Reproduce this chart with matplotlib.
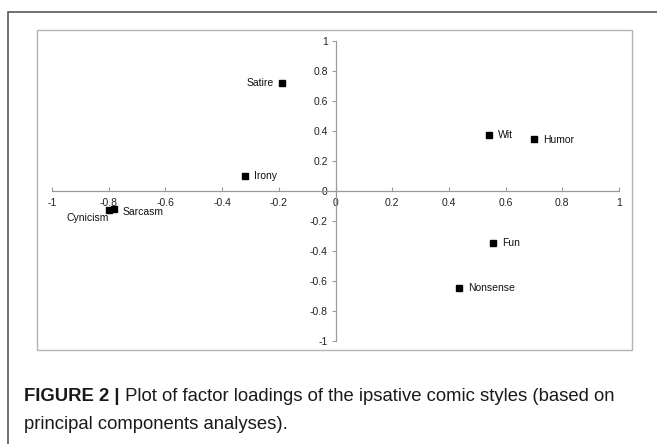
import matplotlib
matplotlib.use("Agg")
import matplotlib.pyplot as plt
from matplotlib.patches import Rectangle

# ------------------------------------------------------------------------------
# data : factor loadings

styles   = ['Satire', 'Irony', 'Wit', 'Humor', 'Sarcasm', 'Cynicism', 'Fun', 'Nonsense']
factor_1 = [-0.19, -0.32, 0.54, 0.70, -0.78, -0.80, 0.555, 0.435]
factor_2 = [0.72, 0.10, 0.375, 0.345, -0.12, -0.13, -0.35, -0.645]

ticks       = [-1, -0.8, -0.6, -0.4, -0.2, 0, 0.2, 0.4, 0.6, 0.8, 1]
tick_labels = ['-1', '-0.8', '-0.6', '-0.4', '-0.2', '0', '0.2', '0.4', '0.6', '0.8', '1']

caption_bold = "FIGURE 2 |"
caption_1    = " Plot of factor loadings of the ipsative comic styles (based on"
caption_2    = "principal components analyses)."

# ------------------------------------------------------------------------------
# figure

W, H = 657, 444
plt.rcParams['font.family'] = ['Liberation Sans', 'DejaVu Sans']
fig = plt.figure(figsize=(W / 100, H / 100), dpi=100)

def px_x(x):
    return x / W

def px_y(y):
    return 1 - y / H

# outer frame (cut at right and bottom) and inner chart box
fig.add_artist(Rectangle((px_x(8), px_y(460)), px_x(700), (460 - 12) / H,
                         transform=fig.transFigure, fill=False,
                         edgecolor='#4a4a4a', linewidth=1.1))
fig.add_artist(Rectangle((px_x(37), px_y(350)), px_x(632 - 37), (350 - 30) / H,
                         transform=fig.transFigure, fill=False,
                         edgecolor='#b4b4b4', linewidth=1.0))

ax = fig.add_axes([px_x(52), px_y(341), px_x(619 - 52), (341 - 40.7) / H])
ax.patch.set_visible(False)
ax.set_xlim(-1, 1)
ax.set_ylim(-1, 1)

for side in ['top', 'right']:
    ax.spines[side].set_visible(False)
ax.spines['left'].set_position(('data', 0))
ax.spines['bottom'].set_position(('data', 0))
for side in ['left', 'bottom']:
    ax.spines[side].set_color('#9a9a9a')
    ax.spines[side].set_linewidth(0.9)

ax.set_xticks(ticks)
ax.set_xticklabels(tick_labels)
ax.set_yticks(ticks)
ax.set_yticklabels(tick_labels)
ax.tick_params(axis='x', direction='in', length=3, width=0.8, color='#9a9a9a',
               pad=5.5, labelsize=7.5, labelcolor='#222222')
ax.tick_params(axis='y', direction='out', length=3, width=0.8, color='#9a9a9a',
               pad=2.5, labelsize=7.5, labelcolor='#222222')

# points
ax.plot(factor_1, factor_2, linestyle='none', marker='s', markersize=4.3,
        color='black', zorder=3)

# label placement (pixels right / down from the point)
place = {
    'Satire':   (-8, 0, 'right'),
    'Irony':    (9, 0, 'left'),
    'Wit':      (9, 0.5, 'left'),
    'Humor':    (9, 0.5, 'left'),
    'Sarcasm':  (8, 3, 'left'),
    'Cynicism': (0.5, 7.5, 'right'),
    'Fun':      (9, 0, 'left'),
    'Nonsense': (9, 0, 'left'),
}
for name, x, y in zip(styles, factor_1, factor_2):
    dx, dy, ha = place[name]
    ax.annotate(name, (x, y), xytext=(dx * 0.72, -dy * 0.72),
                textcoords='offset points', ha=ha, va='center',
                fontsize=7.5, color='#111111')

# caption
renderer = fig.canvas.get_renderer()
size = 13.3
t_b = fig.text(px_x(24), px_y(401), caption_bold, fontsize=size,
               fontweight='bold', color='#1a1a1a', va='baseline')
bb = t_b.get_window_extent(renderer)
fig.text(bb.x1 / W, px_y(401), caption_1, fontsize=size, color='#1a1a1a',
         va='baseline')
fig.text(px_x(24), px_y(429), caption_2, fontsize=size, color='#1a1a1a',
         va='baseline')

fig.savefig('out.png', dpi=100)
